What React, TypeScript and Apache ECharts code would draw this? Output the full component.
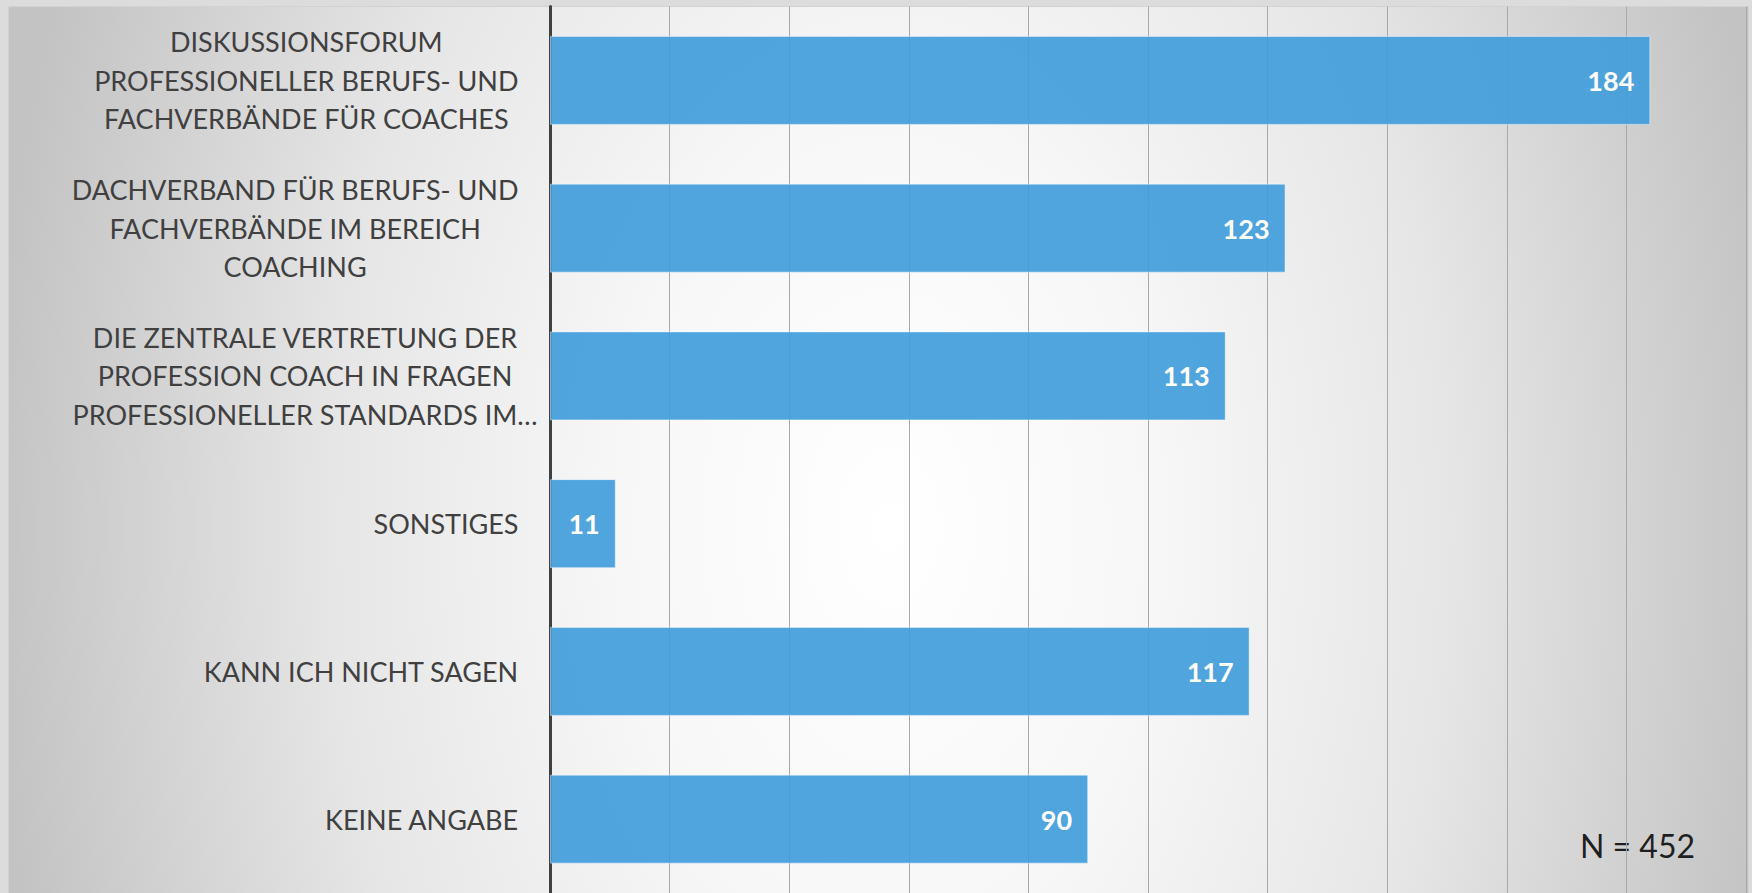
import React, { useEffect, useRef } from 'react';
import * as echarts from 'echarts';

const categories: string[] = [
  'DISKUSSIONSFORUM\nPROFESSIONELLER BERUFS- UND\nFACHVERBÄNDE FÜR COACHES',
  'DACHVERBAND FÜR BERUFS- UND\nFACHVERBÄNDE IM BEREICH\nCOACHING',
  'DIE ZENTRALE VERTRETUNG DER\nPROFESSION COACH IN FRAGEN\nPROFESSIONELLER STANDARDS IM…',
  'SONSTIGES',
  'KANN ICH NICHT SAGEN',
  'KEINE ANGABE',
];
const values: number[] = [184, 123, 113, 11, 117, 90];
const axisMin = 0;
const axisMax = 200;
const axisStep = 20;
const sampleNote = 'N = 452';

export default function App() {
  const ref = useRef<HTMLDivElement>(null);

  useEffect(() => {
    if (!ref.current) return;
    const chart = echarts.init(ref.current, undefined, { renderer: 'svg' });
    const yData = categories.map((c) =>
      c.endsWith('…') ? { value: c, textStyle: { width: 427, overflow: 'none' } } : c
    );
    chart.setOption({
      animation: false,
      backgroundColor: 'transparent',
      grid: { left: 550, right: 6, top: 6.5, height: 888, containLabel: false },
      xAxis: {
        type: 'value',
        min: axisMin,
        max: axisMax,
        interval: axisStep,
        axisLabel: { show: false },
        axisTick: { show: false },
        axisLine: { show: false },
        splitLine: { show: true, lineStyle: { color: '#a8a8a8', width: 1 } },
      },
      yAxis: {
        type: 'category',
        data: yData,
        inverse: true,
        offset: 1.5,
        axisLine: { show: true, lineStyle: { color: '#404040', width: 3 } },
        axisTick: { show: false },
        splitLine: { show: false },
        axisLabel: {
          margin: 30,
          align: 'right',
          overflow: 'none',
          formatter: (v: string) => v.split('\n').map((l) => `{c|${l}}`).join('\n'),
          rich: {
            c: {
              align: 'center',
              fontSize: 27,
              lineHeight: 38.5,
              fontFamily: 'Lato',
              color: '#404040',
            },
          },
        },
      },
      series: [
        {
          type: 'bar',
          data: values,
          barWidth: 89,
          itemStyle: {
            color: 'rgba(65,157,220,0.92)',
            borderColor: 'rgba(255,255,255,0.45)',
            borderWidth: 1,
          },
          label: {
            show: true,
            position: 'insideRight',
            distance: 16,
            color: '#ffffff',
            fontWeight: 'bold',
            fontSize: 27,
            fontFamily: 'Lato',
          },
        },
      ],
      graphic: [
        {
          type: 'text',
          right: 57,
          top: 829,
          style: { text: sampleNote, font: '32px Lato', fill: '#1f1f1f' },
        },
      ],
    });
    return () => chart.dispose();
  }, []);

  return (
    <div
      style={{
        position: 'fixed',
        left: 0,
        top: 0,
        width: 1752,
        height: 893,
        overflow: 'hidden',
        background: '#dcdcdc',
      }}
    >
      <div
        style={{
          position: 'absolute',
          left: 8,
          top: 6,
          width: 1739,
          height: 940,
          border: '1px solid #d2d2d2',
          background:
            'radial-gradient(ellipse 900px 1400px at 880px 520px, #ffffff 0%, #f7f7f7 30%, #e6e6e6 62%, #c3c3c3 100%)',
        }}
      />
      <div ref={ref} style={{ position: 'absolute', left: 0, top: 0, width: 1752, height: 893 }} />
    </div>
  );
}
